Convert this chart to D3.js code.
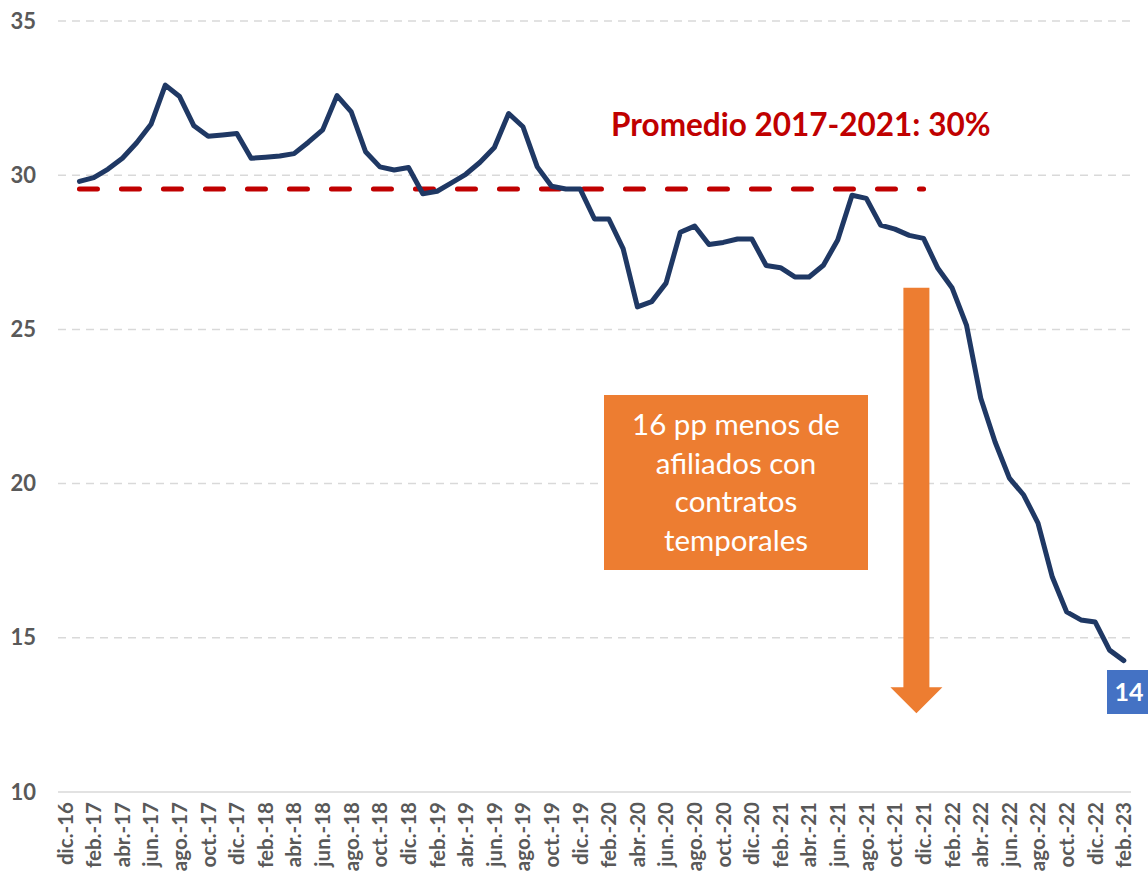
<!DOCTYPE html>
<html>
<head>
<meta charset="utf-8">
<script src="https://cdn.jsdelivr.net/npm/d3@7"></script>
<style>
    body { margin: 0; background: #fff; }
    #chart { width: 1148px; height: 881px; }
    text { font-family: Lato, "Open Sans", sans-serif; }
    .axis text { fill: #595959; font-weight: 700; }
</style>
</head>
<body>
<div id="chart"></div>
<script>

// Months on the category axis (dic.-16 has no data)
const months = [
    "dic.-16",
    "ene.-17","feb.-17","mar.-17","abr.-17","may.-17","jun.-17","jul.-17","ago.-17","sep.-17","oct.-17","nov.-17","dic.-17",
    "ene.-18","feb.-18","mar.-18","abr.-18","may.-18","jun.-18","jul.-18","ago.-18","sep.-18","oct.-18","nov.-18","dic.-18",
    "ene.-19","feb.-19","mar.-19","abr.-19","may.-19","jun.-19","jul.-19","ago.-19","sep.-19","oct.-19","nov.-19","dic.-19",
    "ene.-20","feb.-20","mar.-20","abr.-20","may.-20","jun.-20","jul.-20","ago.-20","sep.-20","oct.-20","nov.-20","dic.-20",
    "ene.-21","feb.-21","mar.-21","abr.-21","may.-21","jun.-21","jul.-21","ago.-21","sep.-21","oct.-21","nov.-21","dic.-21",
    "ene.-22","feb.-22","mar.-22","abr.-22","may.-22","jun.-22","jul.-22","ago.-22","sep.-22","oct.-22","nov.-22","dic.-22",
    "ene.-23","feb.-23"
];

// % afiliados con contrato temporal
const temporales = [
    null,
    29.80, 29.92, 30.20, 30.55, 31.05, 31.65, 32.92, 32.55, 31.60, 31.26, 31.30, 31.35,
    30.55, 30.58, 30.62, 30.70, 31.07, 31.47, 32.58, 32.05, 30.76, 30.27, 30.17, 30.25,
    29.40, 29.48, 29.75, 30.03, 30.42, 30.90, 32.00, 31.57, 30.27, 29.64, 29.55, 29.55,
    28.58, 28.58, 27.62, 25.73, 25.90, 26.50, 28.15, 28.35, 27.75, 27.82, 27.93, 27.93,
    27.07, 27.00, 26.70, 26.70, 27.08, 27.90, 29.35, 29.25, 28.38, 28.25, 28.05, 27.95,
    26.98, 26.34, 25.14, 22.77, 21.35, 20.18, 19.63, 18.72, 16.97, 15.84, 15.58, 15.51,
    14.60, 14.26
];

// Average 2017-2021
const promedio = 29.55;
const promedioDesde = "ene.-17";
const promedioHasta = "dic.-21";
const promedioLabel = "Promedio 2017-2021: 30%";

const yTicks = [10, 15, 20, 25, 30, 35];
const xTicks = months.filter((d, i) => i % 2 === 0);

const boxLines = ["16 pp menos de", "afiliados con", "contratos", "temporales"];
const lastLabel = "14";

let data = months.map((m, i) => ({month: m, value: temporales[i]}));

const width = 1148, height = 881;
const margin = {top: 21, right: 17, bottom: 89, left: 58};

let svg = d3.select("#chart").append("svg")
    .attr("width", width)
    .attr("height", height);

// Scales
let x = d3.scaleBand()
    .domain(months)
    .range([margin.left, width - margin.right])
    .padding(0);

let y = d3.scaleLinear()
    .domain([10, 35])
    .range([height - margin.bottom, margin.top]);

let cx = d => x(d) + x.bandwidth() / 2;

// Gridlines
svg.append("g")
    .selectAll("line")
    .data(yTicks)
    .join("line")
    .attr("x1", margin.left)
    .attr("x2", width - margin.right)
    .attr("y1", d => y(d))
    .attr("y2", d => y(d))
    .attr("stroke", "#d9d9d9")
    .attr("stroke-width", 1.5)
    .attr("stroke-dasharray", d => d === 10 ? null : "8,6");

// Y axis
let yAxis = svg.append("g")
    .attr("class", "axis")
    .attr("transform", "translate(" + 36 + ",0)")
    .call(d3.axisLeft(y).tickValues(yTicks).tickSize(0).tickPadding(0));
yAxis.select(".domain").remove();
yAxis.selectAll("text")
    .style("font-size", "22px");

// X axis
let xAxis = svg.append("g")
    .attr("class", "axis")
    .attr("transform", "translate(0," + y(10) + ")")
    .call(d3.axisBottom(x).tickValues(xTicks).tickSize(0));
xAxis.select(".domain").remove();
xAxis.selectAll("text")
    .style("font-size", "20.5px")
    .attr("text-anchor", "end")
    .attr("transform", "rotate(-90)")
    .attr("x", -10)
    .attr("y", 0)
    .attr("dy", "0.36em");

// Average line
svg.append("line")
    .attr("x1", cx(promedioDesde))
    .attr("x2", cx(promedioHasta))
    .attr("y1", y(promedio))
    .attr("y2", y(promedio))
    .attr("stroke", "#c00000")
    .attr("stroke-width", 5)
    .attr("stroke-linecap", "round")
    .attr("stroke-dasharray", "18,24");

svg.append("text")
    .attr("x", 611)
    .attr("y", 136)
    .attr("fill", "#c00000")
    .style("font-size", "31.5px")
    .style("font-weight", 700)
    .text(promedioLabel);

// Main line
let line = d3.line()
    .defined(d => d.value !== null)
    .x(d => cx(d.month))
    .y(d => y(d.value));

svg.append("path")
    .datum(data)
    .attr("fill", "none")
    .attr("stroke", "#1f3864")
    .attr("stroke-width", 5)
    .attr("stroke-linejoin", "round")
    .attr("stroke-linecap", "round")
    .attr("d", line);

// Orange arrow
let arrowX = (cx("nov.-21") + cx("dic.-21")) / 2;
let arrowTop = y(26.35), arrowHead = y(13.4), arrowTip = y(12.55);
svg.append("path")
    .attr("fill", "#ed7d31")
    .attr("d", "M" + (arrowX - 13) + "," + arrowTop +
        "H" + (arrowX + 13) +
        "V" + arrowHead +
        "H" + (arrowX + 26) +
        "L" + arrowX + "," + arrowTip +
        "L" + (arrowX - 26) + "," + arrowHead +
        "H" + (arrowX - 13) + "Z");

// Orange text box
let box = svg.append("g").attr("transform", "translate(604,395)");
box.append("rect")
    .attr("width", 264)
    .attr("height", 175)
    .attr("fill", "#ed7d31");
box.selectAll("text")
    .data(boxLines)
    .join("text")
    .attr("x", 132)
    .attr("y", (d, i) => 40 + i * 38.5)
    .attr("text-anchor", "middle")
    .attr("fill", "#fff")
    .style("font-size", "29.5px")
    .text(d => d);

// Last value label
let last = data[data.length - 1];
svg.append("rect")
    .attr("x", 1107)
    .attr("y", 670)
    .attr("width", 45)
    .attr("height", 44)
    .attr("fill", "#4472c4");
svg.append("text")
    .attr("x", 1129)
    .attr("y", 701)
    .attr("text-anchor", "middle")
    .attr("fill", "#fff")
    .style("font-size", "25px")
    .style("font-weight", 700)
    .text(lastLabel);

</script>
</body>
</html>
